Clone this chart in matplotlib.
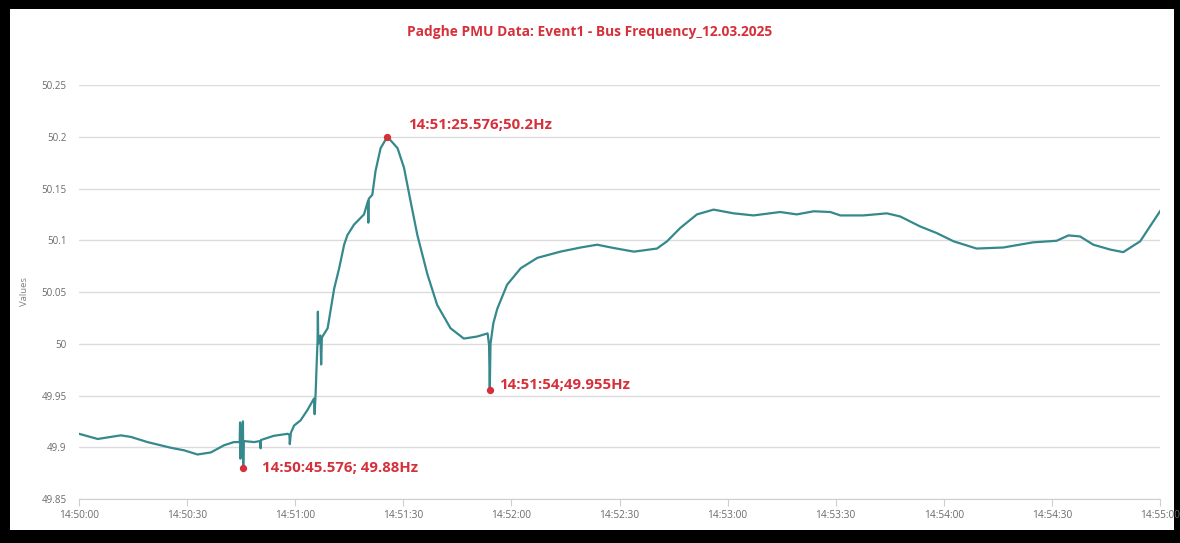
import matplotlib.pyplot as plt
from matplotlib.patches import Rectangle
from matplotlib.ticker import FuncFormatter, MultipleLocator

# seconds after 14:50:00 and bus frequency (Hz)
seconds = [0, 5.2, 11.6, 14.4, 19, 25.5, 29.2, 32.9, 36.6, 40.3, 43,
           44.6, 44.7, 44.8, 45.0, 45.5, 45.576, 45.7, 48.6, 50.3, 50.4, 50.5,
           54, 57.9, 58.4, 58.5, 58.8, 59.7, 61.5, 63.4, 65.2, 65.4, 65.7,
           66.0, 66.2, 66.3, 66.4, 67.0, 67.2, 67.4, 69, 69.9, 70.8, 72.2,
           73.6, 74.5, 76.3, 79.1, 80.2, 80.3, 80.4, 81.4, 82.3, 83.7, 85.576,
           88.4, 90.2, 92, 93.9, 96.7, 99.4, 103.1, 106.8, 110.5, 113.4,
           113.8, 114.0, 114.2, 115.0, 116.1, 118.8, 122.6, 127.2, 133.6,
           139.2, 143.8, 148.4, 154, 160.4, 163.2, 166.9, 171.5, 176.1, 181.7,
           187.2, 194.6, 199.2, 203.9, 208.5, 211.3, 217.7, 224.2, 227.9,
           233.4, 238, 242.7, 249.1, 256.5, 264.8, 271.3, 274.6, 277.8, 281.5,
           286.2, 289.8, 294.5, 300]
freq = [49.913, 49.908, 49.9115, 49.910, 49.905, 49.8995, 49.897, 49.893,
        49.895, 49.902, 49.905,
        49.905, 49.924, 49.889, 49.906, 49.925, 49.88, 49.906, 49.905,
        49.906, 49.899, 49.907,
        49.911, 49.913, 49.912, 49.903, 49.914, 49.921, 49.926, 49.936,
        49.947, 49.932, 49.955,
        49.985, 50.002, 50.031, 50.000, 50.008, 49.980, 50.006, 50.015,
        50.034, 50.053, 50.073,
        50.096, 50.105, 50.115, 50.125, 50.138, 50.117, 50.140, 50.144,
        50.167, 50.189, 50.2,
        50.189, 50.170, 50.138, 50.105, 50.067, 50.0375, 50.015, 50.005,
        50.007, 50.010,
        49.999, 49.955, 50.000, 50.020, 50.034, 50.057, 50.073, 50.083,
        50.089,
        50.093, 50.0957, 50.0925, 50.089, 50.092, 50.099, 50.112, 50.125,
        50.1296, 50.126,
        50.124, 50.1273, 50.125, 50.128, 50.1273, 50.124, 50.124, 50.126,
        50.123,
        50.1134, 50.107, 50.099, 50.092, 50.093, 50.098, 50.0995, 50.1047,
        50.1037, 50.0957,
        50.091, 50.0885, 50.099, 50.128]

# marked events
event_t = [45.576, 85.576, 114.0]
event_f = [49.88, 50.2, 49.955]
event_labels = ['14:50:45.576; 49.88Hz', '14:51:25.576;50.2Hz',
                '14:51:54;49.955Hz']
label_offsets = [(5.3, 0.0), (5.7, 0.011), (2.6, 0.005)]

title = 'Padghe PMU Data: Event1 - Bus Frequency_12.03.2025'
red = '#d6303a'
teal = '#35898c'


def fmt_time(s, pos=None):
    s = int(round(s))
    return '14:%02d:%02d' % (50 + s // 60, s % 60)


fig = plt.figure(figsize=(11.8, 5.43), dpi=100, facecolor='black')
# white card inside the black frame
fig.patches.append(Rectangle((10 / 1180, 13 / 543), 1164 / 1180, 521 / 543,
                             transform=fig.transFigure, facecolor='white',
                             edgecolor='none', zorder=-10))

ax = fig.add_axes([79 / 1180, 44 / 543, 1081 / 1180, 414.5 / 543])
ax.set_zorder(5)
ax.set_facecolor('white')
ax.plot(seconds, freq, color=teal, lw=1.6, solid_joinstyle='round')
ax.scatter(event_t, event_f, color=red, s=18, zorder=5)
for t, f, lab, (dx, dy) in zip(event_t, event_f, event_labels, label_offsets):
    ax.text(t + dx, f + dy, lab, color=red, fontsize=10.8, fontweight='bold',
            family='Open Sans', va='center', ha='left')

ax.set_xlim(0, 300)
ax.set_ylim(49.85, 50.2505)
ax.xaxis.set_major_locator(MultipleLocator(30))
ax.xaxis.set_major_formatter(FuncFormatter(fmt_time))
ax.yaxis.set_major_locator(MultipleLocator(0.05))
ax.yaxis.set_major_formatter(FuncFormatter(lambda v, p: ('%.2f' % v).rstrip('0').rstrip('.')))
ax.grid(axis='y', color='#dcdcdc', lw=1)
ax.set_axisbelow(True)
for side in ['left', 'right', 'top']:
    ax.spines[side].set_visible(False)
ax.spines['bottom'].set_color('#cfcfcf')
for lab in ax.get_xticklabels() + ax.get_yticklabels():
    lab.set_family('Open Sans')
ax.tick_params(axis='x', colors='#cfcfcf', labelcolor='#6a6a6a', labelsize=7.3,
               length=5, pad=3)
ax.tick_params(axis='y', length=0, labelcolor='#6a6a6a', labelsize=7, pad=9)
ax.set_ylabel('Values', color='#808080', fontsize=6.8, family='Open Sans')
ax.yaxis.set_label_coords(-50 / 1081, 0.5)

fig.text(0.5, 1 - 32 / 543, title, color=red, fontsize=9.9, fontweight='bold',
         family='Open Sans', ha='center', va='center')

fig.savefig('out.png', dpi=100, facecolor='black')
